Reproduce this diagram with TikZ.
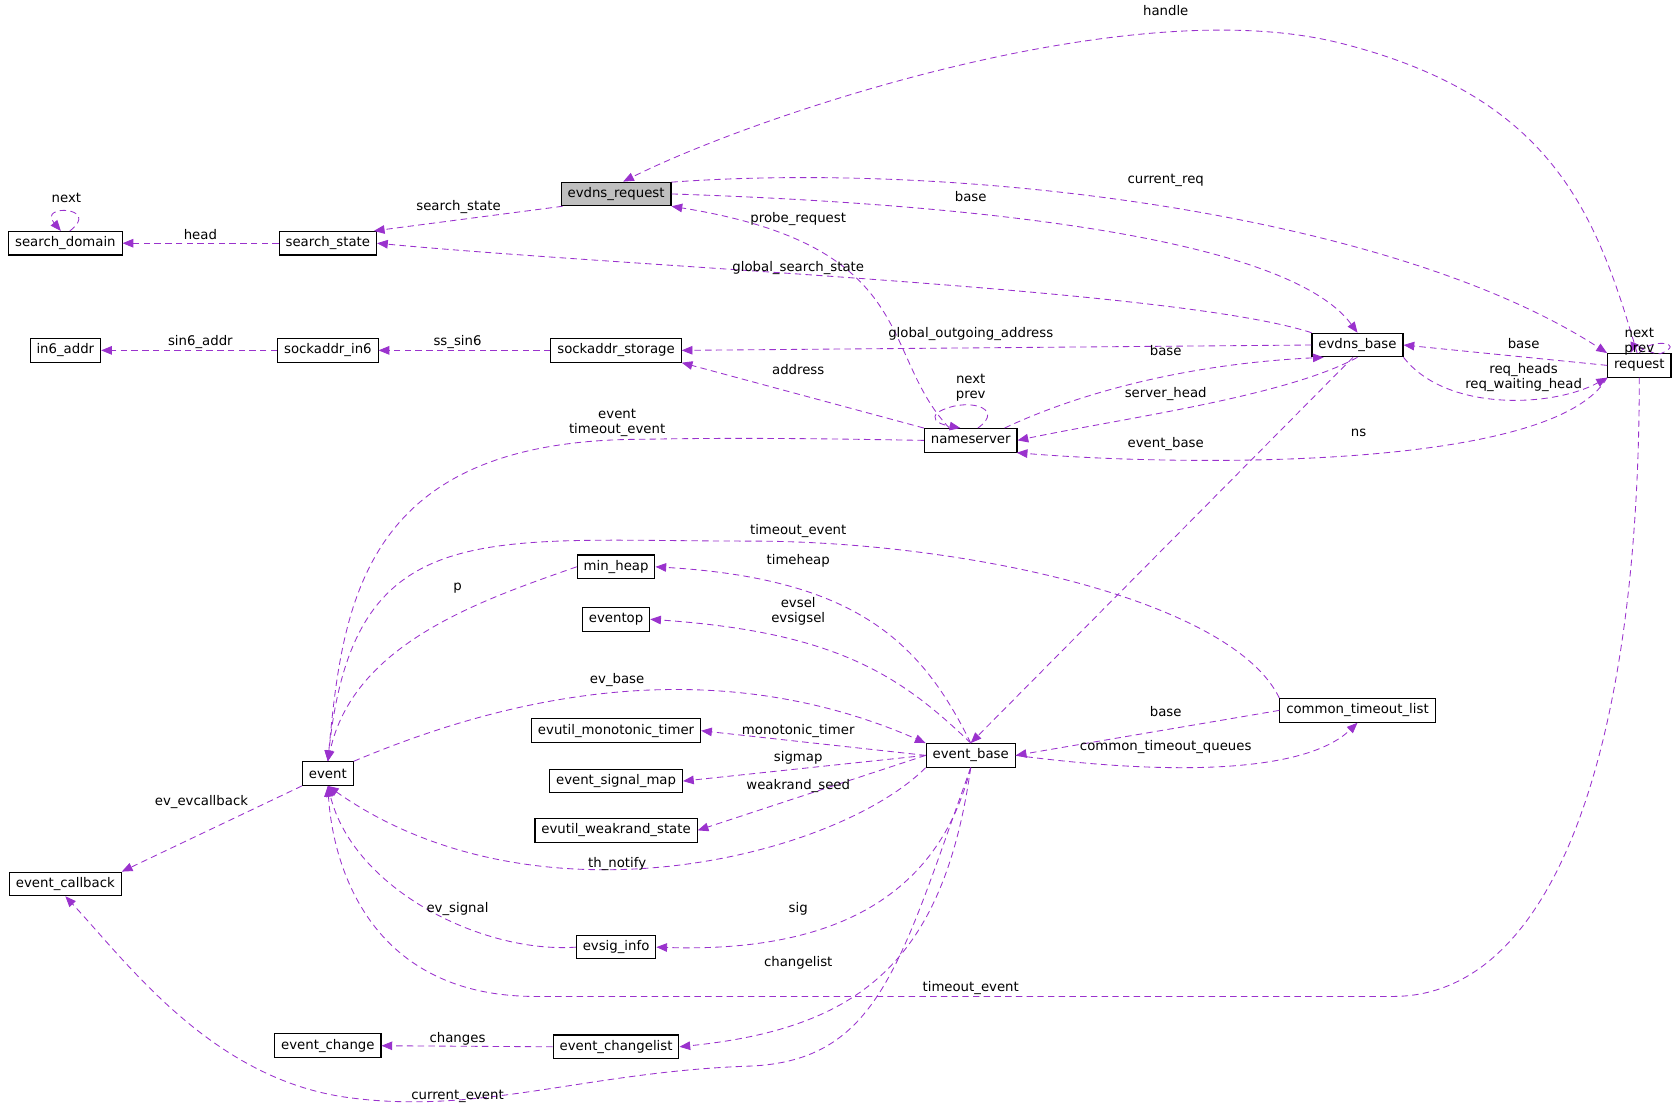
\documentclass[tikz,border=0pt]{standalone}
\usepackage{fontspec}
\setmainfont{DejaVu Sans}
\usetikzlibrary{arrows.meta}
\definecolor{dpurple}{HTML}{9A32CD}
\definecolor{dgrau}{HTML}{BFBFBF}

\begin{document}
\begin{tikzpicture}[x=0.5pt,y=-0.5pt,>={Triangle[length=5pt,width=4pt]},
    cls/.style={draw=black, rectangle, fill=white, line width=0.5pt, minimum height=11pt, inner xsep=3pt, inner ysep=1pt, font=\fontsize{6.2}{7}\selectfont},
    edge/.style={->, draw=dpurple, dashed, dash pattern=on 3pt off 2pt, line width=0.4pt, fill=none},
    lbl/.style={font=\fontsize{6.2}{7}\selectfont, align=center, inner sep=0pt, text=black}]
        \useasboundingbox (0,0) rectangle (1568,1040);

        \node[cls, fill=dgrau] (evdns_request) at (575,181) {evdns\_request};
        \node[cls] (search_domain) at (61,227) {search\_domain};
        \node[cls] (search_state) at (306,227) {search\_state};
        \node[cls] (in6_addr) at (61,327) {in6\_addr};
        \node[cls] (sockaddr_in6) at (306,327) {sockaddr\_in6};
        \node[cls] (sockaddr_storage) at (575,327) {sockaddr\_storage};
        \node[cls] (evdns_base) at (1267,322) {evdns\_base};
        \node[cls] (request) at (1530,341) {request};
        \node[cls] (nameserver) at (906,411) {nameserver};
        \node[cls] (min_heap) at (575,529) {min\_heap};
        \node[cls] (eventop) at (575,578) {eventop};
        \node[cls] (monotonic) at (575,682) {evutil\_monotonic\_timer};
        \node[cls] (signal_map) at (575,729) {event\_signal\_map};
        \node[cls] (weakrand) at (575,775) {evutil\_weakrand\_state};
        \node[cls] (event) at (306,722) {event};
        \node[cls] (event_base) at (906,705) {event\_base};
        \node[cls] (timeout_list) at (1267,663) {common\_timeout\_list};
        \node[cls] (event_callback) at (61,825) {event\_callback};
        \node[cls] (evsig_info) at (575,884) {evsig\_info};
        \node[cls] (event_change) at (306,976) {event\_change};
        \node[cls] (changelist) at (575,977) {event\_changelist};

        \draw[edge] (request.100) .. controls (1490,200) and (1450,90) .. (1250,40) .. controls (1050,-10) and (700,110) .. (evdns_request.60) node[lbl, at={(1088,10)}] {handle};
        \draw[edge] (evdns_request.193) -- (search_state.15) node[lbl, at={(428,193)}] {search\_state};
        \draw[edge] (search_state) -- (search_domain) node[lbl, at={(187,219)}] {head};
        \draw[edge] (search_domain.70) .. controls (95,193) and (35,190) .. (search_domain.110) node[lbl, at={(62,185)}] {next};
        \draw[edge] (evdns_request.12) .. controls (900,150) and (1300,200) .. (request.north west) node[lbl, at={(1088,168)}] {current\_req};
        \draw[edge] (evdns_request.east) .. controls (900,190) and (1200,220) .. (evdns_base.north) node[lbl, at={(906,183)}] {base};
        \draw[edge] (nameserver.150) .. controls (820,330) and (860,230) .. (evdns_request.south east) node[lbl, at={(745,204)}] {probe\_request};
        \draw[edge] (evdns_base.north west) .. controls (1100,270) and (600,250) .. (search_state.east) node[lbl, at={(745,250)}] {global\_search\_state};
        \draw[edge] (evdns_base.west) -- (sockaddr_storage.east) node[lbl, at={(906,312)}] {global\_outgoing\_address};
        \draw[edge] (sockaddr_storage) -- (sockaddr_in6) node[lbl, at={(427,319)}] {ss\_sin6};
        \draw[edge] (sockaddr_in6) -- (in6_addr) node[lbl, at={(187,319)}] {sin6\_addr};
        \draw[edge] (request.west) -- (evdns_base.east) node[lbl, at={(1422,321)}] {base};
        \draw[edge] (evdns_base.south east) .. controls (1350,385) and (1450,380) .. (request.south west) node[lbl, at={(1422,352)}] {req\_heads\\req\_waiting\_head};
        \draw[edge] (request.north) .. controls (1540,315) and (1575,320) .. (1550,330) .. controls (1545,332) and (1525,322) .. (request.125) node[lbl, at={(1530,319)}] {next\\prev};
        \draw[edge] (nameserver.20) .. controls (1000,370) and (1100,340) .. (evdns_base.200) node[lbl, at={(1088,327)}] {base};
        \draw[edge] (evdns_base.south) .. controls (1200,370) and (1050,390) .. (nameserver.east) node[lbl, at={(1088,368)}] {server\_head};
        \draw[edge] (request.south west) .. controls (1450,440) and (1100,435) .. (nameserver.345) node[lbl, at={(1268,404)}] {ns};
        \draw[edge] (evdns_base.250) -- (event_base.north) node[lbl, at={(1088,414)}] {event\_base};
        \draw[edge] (nameserver.north west) -- (sockaddr_storage.south east) node[lbl, at={(745,345)}] {address};
        \draw[edge] (nameserver.60) .. controls (940,380) and (900,370) .. (875,385) .. controls (870,390) and (872,395) .. (nameserver.130) node[lbl, at={(906,362)}] {next\\prev};
        \draw[edge] (nameserver.west) .. controls (800,410) and (700,408) .. (600,410) .. controls (340,410) and (320,560) .. (event.north) node[lbl, at={(576,395)}] {event\\timeout\_event};
        \draw[edge] (timeout_list.north west) .. controls (1150,560) and (900,505) .. (700,505) .. controls (450,505) and (330,480) .. (event.north) node[lbl, at={(745,496)}] {timeout\_event};
        \draw[edge] (min_heap.west) .. controls (450,560) and (330,600) .. (event.north) node[lbl, at={(427,549)}] {p};
        \draw[edge] (event_base.north) .. controls (860,600) and (800,540) .. (min_heap.east) node[lbl, at={(745,523)}] {timeheap};
        \draw[edge] (event_base.north) .. controls (840,630) and (780,590) .. (eventop.east) node[lbl, at={(745,571)}] {evsel\\evsigsel};
        \draw[edge] (event.north east) .. controls (450,660) and (650,600) .. (event_base.north west) node[lbl, at={(576,635)}] {ev\_base};
        \draw[edge] (event_base.west) -- (monotonic.east) node[lbl, at={(745,682)}] {monotonic\_timer};
        \draw[edge] (event_base.west) -- (signal_map.east) node[lbl, at={(745,707)}] {sigmap};
        \draw[edge] (event_base.west) -- (weakrand.east) node[lbl, at={(745,734)}] {weakrand\_seed};
        \draw[edge] (event_base.south west) .. controls (780,800) and (500,870) .. (event.south) node[lbl, at={(576,806)}] {th\_notify};
        \draw[edge] (timeout_list.west) -- (event_base.east) node[lbl, at={(1088,664)}] {base};
        \draw[edge] (event_base.east) .. controls (1100,725) and (1220,720) .. (timeout_list.south) node[lbl, at={(1088,697)}] {common\_timeout\_queues};
        \draw[edge] (event.south west) -- (event_callback.north east) node[lbl, at={(188,749)}] {ev\_evcallback};
        \draw[edge] (event_base.south) .. controls (880,820) and (800,890) .. (evsig_info.east) node[lbl, at={(745,848)}] {sig};
        \draw[edge] (evsig_info.west) .. controls (450,890) and (330,830) .. (event.south) node[lbl, at={(427,848)}] {ev\_signal};
        \draw[edge] (request.south) .. controls (1530,700) and (1450,930) .. (1300,930) -- (500,930) .. controls (340,930) and (310,800) .. (event.south) node[lbl, at={(906,922)}] {timeout\_event};
        \draw[edge] (event_base.south) .. controls (880,900) and (800,960) .. (changelist.east) node[lbl, at={(745,899)}] {changelist};
        \draw[edge] (changelist.west) -- (event_change.east) node[lbl, at={(427,970)}] {changes};
        \draw[edge] (event_base.south) .. controls (840,900) and (820,990) .. (700,995) .. controls (550,1000) and (450,1040) .. (330,1025) .. controls (200,1010) and (120,900) .. (event_callback.south) node[lbl, at={(427,1023)}] {current\_event};
\end{tikzpicture}
\end{document}
